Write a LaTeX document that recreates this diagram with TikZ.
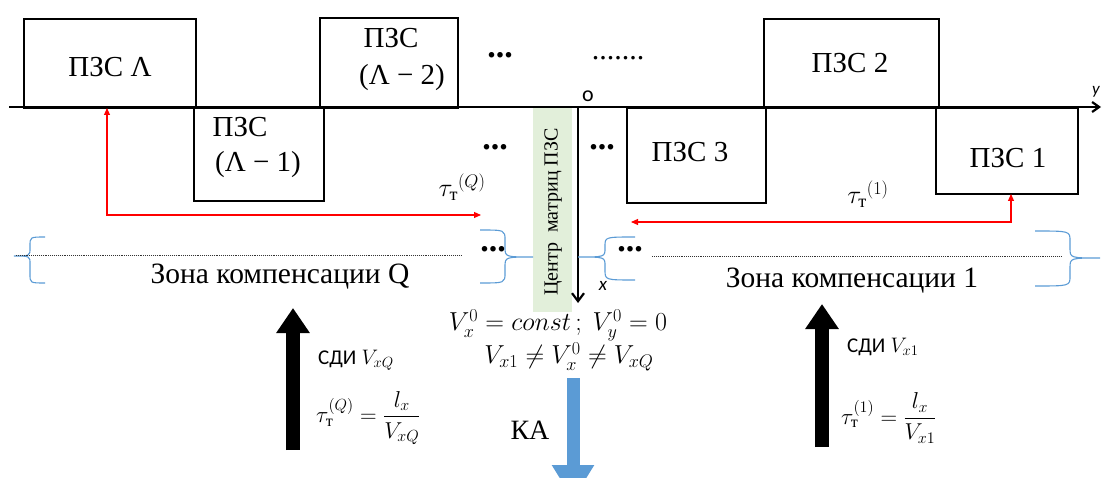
\RequirePackage{fix-cm}
\documentclass[tikz,border=0pt]{standalone}
\usepackage{fontspec}
\usepackage{amsmath}
\setmainfont{Liberation Serif}
\newfontfamily\sdifont{Carlito}
\usetikzlibrary{arrows.meta}
\definecolor{bandgreen}{HTML}{E2EFDA}
\definecolor{bracecol}{HTML}{5B9BD5}
\definecolor{kablue}{HTML}{5B9BD5}
\begin{document}
\begin{tikzpicture}[x=1pt,y=-1pt,
  box/.style={draw=black, line width=1.6pt, inner sep=0pt, anchor=north west},
  lbl/.style={font=\fontsize{29}{32}\selectfont, inner sep=0pt},
  zone/.style={font=\fontsize{29.5}{32}\selectfont, inner sep=0pt},
  dots/.style={font=\fontsize{34}{36}\selectfont\bfseries, inner sep=0pt},
  redarr/.style={red, line width=1.1pt, {Triangle[length=7pt,width=6pt]}-{Triangle[length=7pt,width=6pt]}},
  tau/.style={font=\fontsize{26}{28}\selectfont, inner sep=0pt},
  brace/.style={draw=bracecol, line width=1.1pt},
  dotline/.style={draw=black!80, line width=0.9pt, densely dotted},
  bigarrow/.style={line width=14pt, -{Triangle[length=25pt,width=32pt]}},
  formula/.style={font=\fontsize{23}{26}\selectfont, inner sep=0pt, anchor=west},
  sdi/.style={font=\fontsize{21}{24}\selectfont, inner sep=0pt, anchor=west},
  cmath/.style={font=\fontsize{26}{30}\selectfont, inner sep=0pt}
]
\useasboundingbox (0,0) rectangle (1102,478);
\clip (0,0) rectangle (1102,478);

% green band
\fill[bandgreen] (533,108) rectangle (572,312);
\node[rotate=90, font=\fontsize{20}{22}\selectfont, inner sep=0pt] (centr) at (553,212) {Центр\ \ матриц ПЗС};

% boxes
\node[box, minimum width=172pt, minimum height=89pt] (LA) at (23,18) {};
\node[box, minimum width=130pt, minimum height=93pt] (L1) at (193,107) {};
\node[box, minimum width=138pt, minimum height=90pt] (L2) at (319,17) {};
\node[box, minimum width=139pt, minimum height=95pt] (P3) at (626,107) {};
\node[box, minimum width=175pt, minimum height=89pt] (P2) at (763,18) {};
\node[box, minimum width=142pt, minimum height=86pt] (P1) at (935,107) {};

% box labels
\node[lbl] (tLA) at (110,67) {ПЗС Λ};
\node[lbl] (tL1a) at (240,127) {ПЗС};
\node[lbl] (tL1b) at (258,165) {(Λ − 1)};
\node[lbl] (tL2a) at (391,38) {ПЗС};
\node[lbl] (tL2b) at (402,78) {(Λ − 2)};
\node[lbl] (tP2) at (850,63) {ПЗС 2};
\node[lbl] (tP3) at (690,152) {ПЗС 3};
\node[lbl] (tP1) at (1008,158) {ПЗС 1};

% axis
\coordinate (axL) at (9,107);
\coordinate (axR) at (1101,107);
\draw[line width=2.2pt, -{Straight Barb[length=7pt,width=10pt]}] (axL) -- (axR);
\node[font=\fontsize{17}{18}\selectfont\sdifont\itshape, inner sep=0pt] (ylab) at (1096,92) {y};
\coordinate (O) at (578,107);
\coordinate (xend) at (578,303);
\draw[line width=2.2pt, -{Straight Barb[length=8pt,width=12pt]}] (O) -- (xend);
\node[font=\fontsize{22}{24}\selectfont\sdifont, inner sep=0pt] (olab) at (588,96) {o};
\node[font=\fontsize{19}{20}\selectfont\sdifont\itshape, inner sep=0pt] (xlab) at (603,286) {x};

% dots
\node[dots] (d1) at (500,55) {...};
\node[dots] (d2) at (495,147) {...};
\node[dots] (d3) at (602,147) {...};
\node[dots] (d4) at (493,249) {...};
\node[dots] (d5) at (630,249) {...};
\node[font=\fontsize{30}{32}\selectfont, inner sep=0pt] (d6) at (618,58) {.......};

% red arrows
\coordinate (rq1) at (107,108);
\coordinate (rq2) at (481,215);
\draw[redarr] (rq1) |- (rq2);
\coordinate (r11) at (1011,194);
\coordinate (r12) at (631,222);
\draw[redarr] (r11) |- (r12);
\node[tau] (tauQ) at (462,187) {${\tau_{\text{т}}}^{(Q)}$};
\node[tau] (tau1) at (868,194) {${\tau_{\text{т}}}^{(1)}$};

% braces
\draw[brace] (45,237) .. controls (30,237) .. (30,246) -- (30,248) .. controls (30,256) .. (14,256) .. controls (30,256) .. (30,264) -- (30,274) .. controls (30,283) .. (45,283);
\draw[brace] (480,230) .. controls (505,230) .. (505,240) -- (505,247) .. controls (505,257) .. (533,257) .. controls (505,257) .. (505,267) -- (505,273) .. controls (505,283) .. (480,283);
\draw[brace] (635,237) .. controls (605,237) .. (605,246) -- (605,248) .. controls (605,257) .. (578,257) .. controls (605,257) .. (605,266) -- (605,270) .. controls (605,280) .. (635,280);
\draw[brace] (1035,231) .. controls (1070,231) .. (1070,241) -- (1070,248) .. controls (1070,258) .. (1100,258) .. controls (1070,258) .. (1070,268) -- (1070,276) .. controls (1070,286) .. (1035,286);

% dotted lines
\coordinate (dqa) at (16,255);
\coordinate (dqb) at (462,255);
\coordinate (d1a) at (652,256);
\coordinate (d1b) at (1062,256);
\draw[dotline] (dqa) -- (dqb);
\draw[dotline] (d1a) -- (d1b);

% zone labels
\node[zone] (zQ) at (280,277) {Зона компенсации Q};
\node[zone] (z1) at (852,281) {Зона компенсации 1};

% thick arrows
\coordinate (aQb) at (293,450);
\coordinate (aQt) at (293,308);
\draw[bigarrow] (aQb) -- (aQt);
\coordinate (a1b) at (822,447);
\coordinate (a1t) at (822,304);
\draw[bigarrow] (a1b) -- (a1t);

% formulas
\node[sdi] (sdiQ) at (318,360) {{\sdifont СДИ} $V_{xQ}$};
\node[formula] (fQ) at (316,418) {$\tau_{\text{т}}^{(Q)} = \dfrac{l_x}{V_{xQ}}$};
\node[sdi] (sdi1) at (847,347) {{\sdifont СДИ} $V_{x1}$};
\node[formula] (f1) at (841,418) {$\tau_{\text{т}}^{(1)} = \dfrac{l_x}{V_{x1}}$};

\node[cmath] (m1) at (558,325) {$V_x^0 = const\,;\ V_y^0 = 0$};
\node[cmath] (m2) at (569,357) {$V_{x1} \neq V_x^0 \neq V_{xQ}$};

% KA
\node[font=\fontsize{28}{30}\selectfont, inner sep=0pt] (KA) at (530,430) {КА};
\coordinate (kat) at (573,378);
\coordinate (kab) at (573,500);
\draw[kablue, line width=13pt, -{Triangle[length=35pt,width=40pt]}] (kat) -- (kab);
\end{tikzpicture}
\end{document}
